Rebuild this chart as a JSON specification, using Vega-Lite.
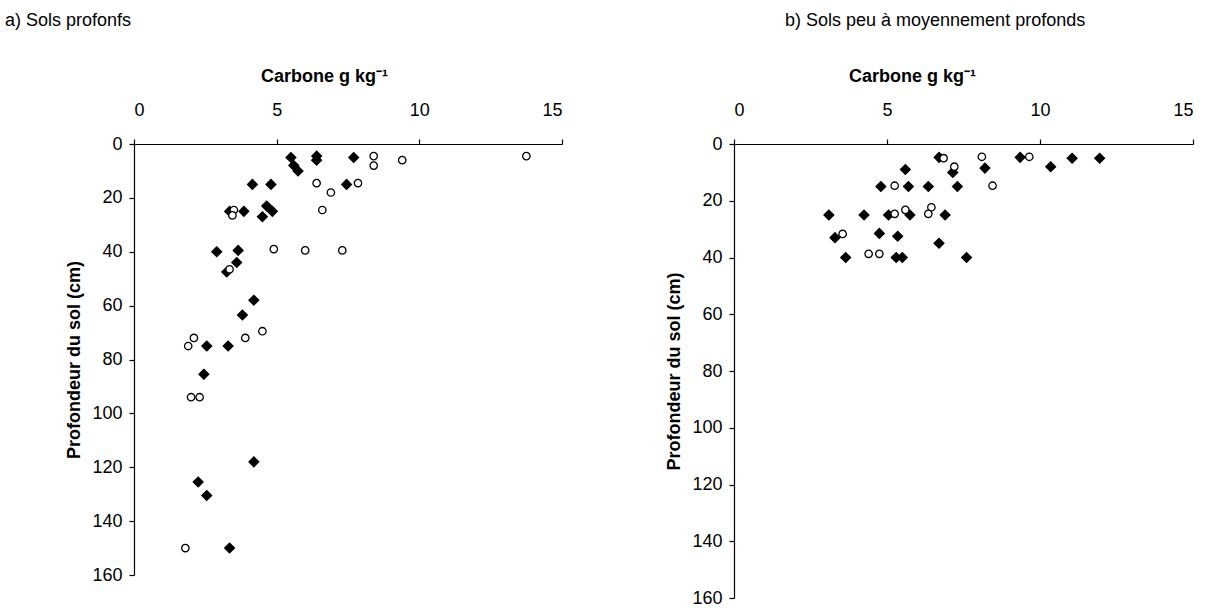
{
  "$schema": "https://vega.github.io/schema/vega-lite/v6.json",
  "background": "white",
  "padding": {"left": 5, "top": 12, "right": 5, "bottom": 5},
  "config": {
    "font": "Liberation Sans",
    "view": {"stroke": null},
    "axis": {
      "grid": false,
      "domainColor": "black",
      "tickColor": "black",
      "labelColor": "black",
      "titleColor": "black",
      "labelFontSize": 18,
      "titleFontSize": 18,
      "titleFontWeight": "bold",
      "tickSize": 5,
      "domainWidth": 1.2,
      "tickWidth": 1.2,
      "labelFont": "Liberation Sans",
      "titleFont": "Liberation Sans"
    },
    "title": {"fontSize": 18, "fontWeight": "normal", "anchor": "start", "color": "black", "font": "Liberation Sans", "frame": "group"}
  },
  "datasets": {
    "a": [
      {"c": 5.5, "p": 5, "s": "plein"},
      {"c": 6.4, "p": 4.5, "s": "plein"},
      {"c": 6.4, "p": 6, "s": "plein"},
      {"c": 7.7, "p": 5, "s": "plein"},
      {"c": 5.6, "p": 8, "s": "plein"},
      {"c": 5.75, "p": 10, "s": "plein"},
      {"c": 4.15, "p": 15, "s": "plein"},
      {"c": 4.8, "p": 15, "s": "plein"},
      {"c": 7.45, "p": 15, "s": "plein"},
      {"c": 3.35, "p": 25, "s": "plein"},
      {"c": 3.85, "p": 25, "s": "plein"},
      {"c": 4.65, "p": 23, "s": "plein"},
      {"c": 4.85, "p": 25, "s": "plein"},
      {"c": 4.5, "p": 27, "s": "plein"},
      {"c": 2.9, "p": 40, "s": "plein"},
      {"c": 3.65, "p": 39.5, "s": "plein"},
      {"c": 3.6, "p": 44, "s": "plein"},
      {"c": 3.25, "p": 47.5, "s": "plein"},
      {"c": 4.2, "p": 58, "s": "plein"},
      {"c": 3.8, "p": 63.5, "s": "plein"},
      {"c": 2.55, "p": 75, "s": "plein"},
      {"c": 3.3, "p": 75, "s": "plein"},
      {"c": 2.45, "p": 85.5, "s": "plein"},
      {"c": 4.2, "p": 118, "s": "plein"},
      {"c": 2.25, "p": 125.5, "s": "plein"},
      {"c": 2.55, "p": 130.5, "s": "plein"},
      {"c": 3.35, "p": 150, "s": "plein"},
      {"c": 8.4, "p": 4.5, "s": "vide"},
      {"c": 8.4, "p": 8, "s": "vide"},
      {"c": 9.4, "p": 6, "s": "vide"},
      {"c": 13.75, "p": 4.5, "s": "vide"},
      {"c": 6.4, "p": 14.5, "s": "vide"},
      {"c": 7.85, "p": 14.5, "s": "vide"},
      {"c": 6.9, "p": 18, "s": "vide"},
      {"c": 6.6, "p": 24.5, "s": "vide"},
      {"c": 3.5, "p": 24.5, "s": "vide"},
      {"c": 3.45, "p": 26.5, "s": "vide"},
      {"c": 4.9, "p": 39, "s": "vide"},
      {"c": 6.0, "p": 39.5, "s": "vide"},
      {"c": 7.3, "p": 39.5, "s": "vide"},
      {"c": 3.35, "p": 46.5, "s": "vide"},
      {"c": 2.1, "p": 72, "s": "vide"},
      {"c": 1.9, "p": 75, "s": "vide"},
      {"c": 3.9, "p": 72, "s": "vide"},
      {"c": 4.5, "p": 69.5, "s": "vide"},
      {"c": 2.0, "p": 94, "s": "vide"},
      {"c": 2.3, "p": 94, "s": "vide"},
      {"c": 1.8, "p": 150, "s": "vide"}
    ],
    "b": [
      {"c": 6.7, "p": 4.7, "s": "plein"},
      {"c": 9.35, "p": 4.7, "s": "plein"},
      {"c": 11.05, "p": 5, "s": "plein"},
      {"c": 11.95, "p": 5, "s": "plein"},
      {"c": 10.35, "p": 8, "s": "plein"},
      {"c": 8.2, "p": 8.5, "s": "plein"},
      {"c": 7.15, "p": 10, "s": "plein"},
      {"c": 5.6, "p": 9, "s": "plein"},
      {"c": 4.8, "p": 15, "s": "plein"},
      {"c": 5.7, "p": 15, "s": "plein"},
      {"c": 6.35, "p": 15, "s": "plein"},
      {"c": 7.3, "p": 15, "s": "plein"},
      {"c": 3.1, "p": 25, "s": "plein"},
      {"c": 4.25, "p": 25, "s": "plein"},
      {"c": 5.05, "p": 25, "s": "plein"},
      {"c": 5.75, "p": 25, "s": "plein"},
      {"c": 6.9, "p": 25, "s": "plein"},
      {"c": 3.3, "p": 33, "s": "plein"},
      {"c": 4.75, "p": 31.5, "s": "plein"},
      {"c": 5.35, "p": 32.5, "s": "plein"},
      {"c": 6.7, "p": 35, "s": "plein"},
      {"c": 3.65, "p": 40, "s": "plein"},
      {"c": 5.3, "p": 40, "s": "plein"},
      {"c": 5.5, "p": 40, "s": "plein"},
      {"c": 7.6, "p": 40, "s": "plein"},
      {"c": 6.85, "p": 5, "s": "vide"},
      {"c": 8.1, "p": 4.5, "s": "vide"},
      {"c": 9.65, "p": 4.5, "s": "vide"},
      {"c": 7.2, "p": 8, "s": "vide"},
      {"c": 5.25, "p": 14.7, "s": "vide"},
      {"c": 8.45, "p": 14.7, "s": "vide"},
      {"c": 5.6, "p": 23.2, "s": "vide"},
      {"c": 5.25, "p": 24.6, "s": "vide"},
      {"c": 6.45, "p": 22.3, "s": "vide"},
      {"c": 6.35, "p": 24.6, "s": "vide"},
      {"c": 3.55, "p": 31.7, "s": "vide"},
      {"c": 4.4, "p": 38.7, "s": "vide"},
      {"c": 4.75, "p": 38.7, "s": "vide"}
    ]
  },
  "bounds": "flush",
  "spacing": 172,
  "hconcat": [
    {
      "width": 428,
      "height": 431,
      "title": {"text": "a) Sols profonfs", "dx": -129, "offset": 37},
      "data": {"name": "a"},
      "mark": {"type": "point", "filled": true, "stroke": "black", "strokeWidth": 1.3, "opacity": 1},
      "encoding": {
        "x": {"field": "c", "type": "quantitative", "scale": {"domain": [0, 15], "nice": false}, "axis": {"orient": "top", "values": [0, 5, 10, 15], "title": "Carbone g kg⁻¹", "labelPadding": 20, "titlePadding": 16, "titleX": 190}},
        "y": {"field": "p", "type": "quantitative", "scale": {"domain": [0, 160], "reverse": true, "nice": false}, "axis": {"values": [0, 20, 40, 60, 80, 100, 120, 140, 160], "title": "Profondeur du sol  (cm)", "labelPadding": 7, "titlePadding": 8}},
        "shape": {"field": "s", "type": "nominal", "scale": {"domain": ["plein", "vide"], "range": ["diamond", "circle"]}, "legend": null},
        "fill": {"field": "s", "type": "nominal", "scale": {"domain": ["plein", "vide"], "range": ["black", "white"]}, "legend": null},
        "size": {"field": "s", "type": "ordinal", "scale": {"domain": ["plein", "vide"], "range": [95, 55]}, "legend": null}
      }
    },
    {
      "width": 459,
      "height": 454,
      "title": {"text": "b) Sols peu à moyennement profonds", "dx": 51, "offset": 37},
      "data": {"name": "b"},
      "mark": {"type": "point", "filled": true, "stroke": "black", "strokeWidth": 1.3, "opacity": 1},
      "encoding": {
        "x": {"field": "c", "type": "quantitative", "scale": {"domain": [0, 15], "nice": false}, "axis": {"orient": "top", "values": [0, 5, 10, 15], "title": "Carbone g kg⁻¹", "labelPadding": 20, "titlePadding": 16, "titleX": 178}},
        "y": {"field": "p", "type": "quantitative", "scale": {"domain": [0, 160], "reverse": true, "nice": false}, "axis": {"values": [0, 20, 40, 60, 80, 100, 120, 140, 160], "title": "Profondeur du sol  (cm)", "labelPadding": 7, "titlePadding": 8}},
        "shape": {"field": "s", "type": "nominal", "scale": {"domain": ["plein", "vide"], "range": ["diamond", "circle"]}, "legend": null},
        "fill": {"field": "s", "type": "nominal", "scale": {"domain": ["plein", "vide"], "range": ["black", "white"]}, "legend": null},
        "size": {"field": "s", "type": "ordinal", "scale": {"domain": ["plein", "vide"], "range": [95, 55]}, "legend": null}
      }
    }
  ]
}
